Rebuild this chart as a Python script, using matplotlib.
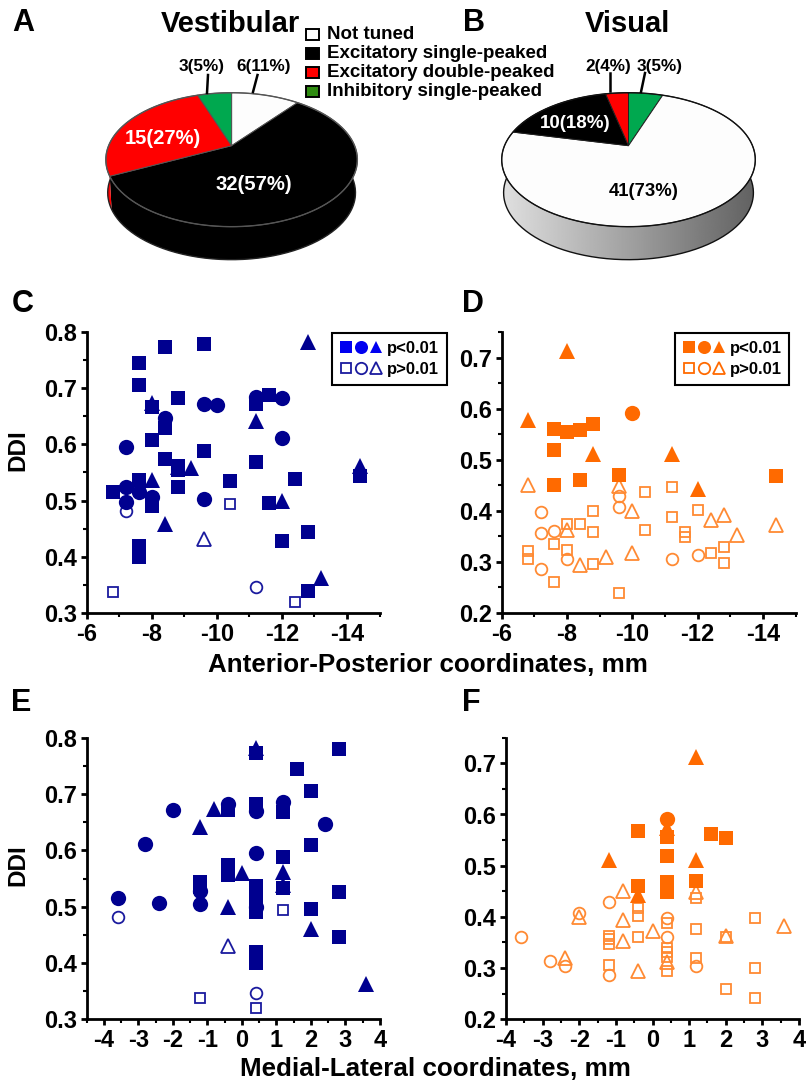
import numpy as np
import matplotlib
matplotlib.use('Agg')
import matplotlib.pyplot as plt
from matplotlib.legend_handler import HandlerTuple
from matplotlib.patches import Polygon, Rectangle
from matplotlib.ticker import MultipleLocator

plt.rcParams['font.family'] = ['Liberation Sans', 'DejaVu Sans']
plt.rcParams['font.weight'] = 'bold'
plt.rcParams['axes.unicode_minus'] = False

# pie counts, clockwise from the top
vest_counts = [6, 32, 15, 3]
vest_colors = ['#fdfdfd', '#000000', '#ff0000', '#00a84f']
vis_counts = [3, 41, 10, 2]
vis_colors = ['#00a84f', '#fdfdfd', '#000000', '#ff0000']
legend_labels = ['Not tuned', 'Excitatory single-peaked', 'Excitatory double-peaked', 'Inhibitory single-peaked']
legend_colors = ['#ffffff', '#000000', '#ff0000', '#2e8b10']

# C: DDI vs anterior-posterior, vestibular
c_sq_x = [-6.8, -7.6, -7.6, -7.6, -7.6, -7.6, -7.6, -8, -8, -8.4, -8.4, -8.4, -8, -8.8, -8.8, -8.8, -8.8, -9.6, -9.6,
          -10.4, -11.2, -11.2, -11.6, -11.6, -12, -12.4, -12.8, -12.8, -14.4]
c_sq_y = [.515, .745, .705, .537, .419, .41, .40, .608, .49, .773, .63, .574, .666, .683, .561, .554, .524, .779, .588,
          .534, .671, .569, .688, .496, .428, .538, .445, .339, .543]
c_ci_x = [-7.2, -7.2, -7.2, -7.6, -8, -8.4, -9.6, -9.6, -10, -11.2, -12, -12]
c_ci_y = [.595, .525, .498, .516, .506, .647, .672, .503, .67, .685, .683, .611]
c_tr_x = [-12.8, -8, -11.2, -14.4, -8.8, -9.2, -8, -8.4, -12, -13.2]
c_tr_y = [.783, .674, .641, .561, .56, .558, .537, .458, .5, .362]
c_osq_x = [-6.8, -10.4, -12.4]
c_osq_y = [.337, .494, .32]
c_oci_x = [-7.2, -11.2]
c_oci_y = [.481, .346]
c_otr_x = [-9.6]
c_otr_y = [.431]

# D: DDI vs anterior-posterior, visual
d_sq_x = [-7.6, -7.6, -7.6, -8, -8.4, -8.8, -8.4, -9.6, -14.4]
d_sq_y = [.56, .519, .45, .555, .559, .57, .46, .47, .469]
d_ci_x = [-10]
d_ci_y = [.592]
d_tr_x = [-8, -6.8, -8.8, -11.2, -12]
d_tr_y = [.712, .577, .511, .511, .442]
d_osq_x = [-6.8, -6.8, -7.6, -7.6, -8, -8, -8.4, -8.8, -8.8, -8.8, -9.6, -10.4, -10.4, -11.2, -11.2, -11.6, -11.6,
           -12, -12.4, -12.8, -12.8]
d_osq_y = [.321, .306, .336, .26, .375, .323, .375, .399, .359, .296, .24, .436, .362, .447, .388, .359, .349,
           .401, .317, .33, .298]
d_oci_x = [-7.2, -7.2, -7.2, -7.6, -8, -9.6, -9.6, -11.2, -12]
d_oci_y = [.398, .357, .287, .361, .305, .429, .407, .305, .313]
d_otr_x = [-6.8, -8, -8.4, -9.2, -9.6, -10, -10, -12.4, -12.8, -13.2, -14.4]
d_otr_y = [.45, .362, .293, .31, .449, .4, .318, .382, .391, .352, .372]

# E: DDI vs medial-lateral, vestibular
e_sq_x = [.4, 1.6, 2.8, 2, -.4, .4, 1.2, 2, 1.2, -.4, -.4, -.4, -1.2, -1.2, .4, .4, .4, 2.8, 2, .4, 2.8, .4, .4, .4, 1.2]
e_sq_y = [.772, .745, .78, .705, .671, .683, .668, .609, .589, .574, .565, .556, .544, .535, .537, .525, .512, .526,
          .496, .49, .447, .42, .41, .40, .534]
e_ci_x = [-3.6, -2.8, -2.4, -2, -1.2, -1.2, -.4, .4, .4, .4, 1.2, 2.4]
e_ci_y = [.516, .612, .506, .672, .528, .504, .683, .67, .596, .5, .686, .647]
e_tr_x = [.4, -.8, -1.2, 0, 1.2, 1.2, -.4, 2, 3.6]
e_tr_y = [.782, .674, .642, .56, .561, .538, .5, .46, .363]
e_osq_x = [-1.2, 1.2, .4]
e_osq_y = [.338, .494, .32]
e_oci_x = [-3.6, .4]
e_oci_y = [.482, .347]
e_otr_x = [-.4]
e_otr_y = [.431]

# F: DDI vs medial-lateral, visual
f_sq_x = [-.4, .4, .4, .4, .4, .4, -.4, 1.6, 2, 1.2]
f_sq_y = [.568, .557, .519, .469, .459, .449, .46, .561, .555, .47]
f_ci_x = [.4]
f_ci_y = [.592]
f_tr_x = [1.2, -1.2, .4, 1.2, -.4]
f_tr_y = [.712, .511, .573, .511, .443]
f_osq_x = [-1.2, -1.2, -1.2, -1.2, -.4, -.4, -.4, .4, .4, .4, .4, .4, 1.2, 1.2, 1.2, 2, 2, 2.8, 2.8, 2.8]
f_osq_y = [.363, .356, .348, .307, .417, .401, .36, .388, .34, .332, .322, .295, .436, .376, .319, .361, .26, .398, .3, .241]
f_oci_x = [-3.6, -2.8, -2.4, -2, -1.2, -1.2, .4, .4, 1.2]
f_oci_y = [.361, .313, .305, .408, .43, .287, .397, .36, .305]
f_otr_x = [-2.4, -2, -.8, -.8, -.8, -.4, 0, .4, 1.2, 2, 3.6]
f_otr_y = [.319, .4, .45, .393, .353, .294, .373, .311, .448, .363, .382]

W, H = 809, 1082
fig = plt.figure(figsize=(W / 100, H / 100), dpi=100)


def axes_px(left, top, right, bottom):
    return fig.add_axes([left / W, 1 - bottom / H, (right - left) / W, (bottom - top) / H])


# overlay in pixel coordinates for the pies and free text
bg = fig.add_axes([0, 0, 1, 1])
bg.set_xlim(0, W)
bg.set_ylim(H, 0)
bg.axis('off')


def rim(theta, cx, cy, s, p=0.209, b=33.6, drop=0, xs=1.0):
    # the pies are tilted discs: perspective puts the apex above the ellipse centre
    u, v = np.sin(theta), np.cos(theta)
    d = 1 + p * v
    return cx + xs * s * u / d, (cy - b * v) / d + drop


def draw_pie(counts, colors, cx, cy, s, edge, rim_color, low_color, gradient=False):
    fr = np.cumsum([0] + counts) / sum(counts) * 2 * np.pi
    for i in range(len(counts)):
        t = np.linspace(fr[i], fr[i + 1], 80)
        x0, y0 = rim(t, cx, cy, s)
        x1, y1 = rim(t[::-1], cx, cy, s, drop=33, xs=0.985)
        side = Polygon(np.c_[np.r_[x0, x1], np.r_[y0, y1]], closed=True, fc=colors[i], ec='none', zorder=1)
        bg.add_patch(side)
        if gradient and colors[i] == '#fdfdfd':
            side.set_facecolor('none')
            im = bg.imshow(np.linspace(0.88, 0.38, 256)[None, :], cmap='gray', vmin=0, vmax=1, aspect='auto',
                           extent=(cx - s * 1.03, cx + s * 1.03, cy + 130, cy - 20), zorder=1)
            im.set_clip_path(side)
    if gradient:
        bg.set_xlim(0, W)
        bg.set_ylim(H, 0)
    # outline of the lower rim
    t = np.linspace(np.pi / 2 - 0.1, 3 * np.pi / 2 + 0.1, 200)
    xl, yl = rim(t, cx, cy, s, drop=33, xs=0.985)
    bg.plot(xl, yl, color=low_color, lw=1.0, zorder=1.5)
    for i in range(len(counts)):
        t = np.linspace(fr[i], fr[i + 1], 80)
        x0, y0 = rim(t, cx, cy, s)
        top = Polygon(np.c_[np.r_[cx, x0], np.r_[cy, y0]], closed=True, fc=colors[i], ec=edge, lw=0.7, zorder=2)
        bg.add_patch(top)
    t = np.linspace(0, 2 * np.pi, 300)
    xr, yr = rim(t, cx, cy, s)
    bg.plot(xr, yr, color=rim_color, lw=1.0, zorder=3)


draw_pie(vest_counts, vest_colors, 231.6, 145.7, 123, '#555555', '#555555', '#222222')
draw_pie(vis_counts, vis_colors, 628.5, 145.7, 124, '#222222', '#111111', '#111111', gradient=True)

# small ticks from the count labels to the pie
bg.plot([208, 207], [75, 93], color='k', lw=1.8, zorder=4)
bg.plot([257.5, 253], [75, 92], color='k', lw=1.8, zorder=4)
bg.plot([610, 610], [73, 91], color='k', lw=1.8, zorder=4)
bg.plot([645, 641], [73, 92], color='k', lw=1.8, zorder=4)

bg.text(230, 24, 'Vestibular', fontsize=21, ha='center', va='center')
bg.text(627, 24, 'Visual', fontsize=21, ha='center', va='center')

for (px, py, s) in [(202, 67, '3(5%)'), (264, 67, '6(11%)'), (608, 67, '2(4%)'), (660, 67, '3(5%)')]:
    bg.text(px, py, s, fontsize=12.3, ha='center', va='center', zorder=5)
bg.text(163, 138, '15(27%)', fontsize=14.5, color='w', ha='center', va='center', zorder=5)
bg.text(254, 185, '32(57%)', fontsize=14.6, color='w', ha='center', va='center', zorder=5)
bg.text(575, 123, '10(18%)', fontsize=13.5, color='w', ha='center', va='center', zorder=5)
bg.text(644, 192, '41(73%)', fontsize=13.3, color='k', ha='center', va='center', zorder=5)

for i, lab in enumerate(legend_labels):
    ly = 34.5 + 19 * i
    bg.add_patch(Rectangle((306, ly - 5.5), 13, 11, fc=legend_colors[i], ec='k', lw=1.4, zorder=5))
    bg.text(327, ly, lab, fontsize=13.5, ha='left', va='center', zorder=5)

for (px, py, s) in [(23, 23, 'A'), (474, 23, 'B'), (23, 304, 'C'), (473, 304, 'D'), (21, 703, 'E'), (471, 703, 'F')]:
    bg.text(px, py, s, fontsize=22, ha='center', va='center', zorder=5)

bg.text(18, 450, 'DDI', fontsize=17.5, rotation=90, ha='center', va='center')
bg.text(18, 865, 'DDI', fontsize=17.5, rotation=90, ha='center', va='center')
bg.text(428, 665, 'Anterior-Posterior coordinates, mm', fontsize=18.7, ha='center', va='center')
bg.text(435, 1069, 'Medial-Lateral coordinates, mm', fontsize=18.7, ha='center', va='center')


def scatter_panel(ax, sq, ci, tr, osq, oci, otr, fill, line, xlim, ylim, xmaj, xmin):
    ax.plot(*osq, 's', ms=7.8, mfc='none', mec=line, mew=1.3, clip_on=False)
    ax.plot(*oci, 'o', ms=8.4, mfc='none', mec=line, mew=1.3, clip_on=False)
    ax.plot(*otr, '^', ms=9.6, mfc='none', mec=line, mew=1.3, clip_on=False)
    ax.plot(*sq, 's', ms=10, color=fill, mew=0, clip_on=False)
    ax.plot(*ci, 'o', ms=11, color=fill, mew=0, clip_on=False)
    ax.plot(*tr, '^', ms=11.5, color=fill, mew=0, clip_on=False)
    ax.set_xlim(*xlim)
    ax.set_ylim(*ylim)
    ax.spines['top'].set_visible(False)
    ax.spines['right'].set_visible(False)
    ax.spines['left'].set_linewidth(2)
    ax.spines['bottom'].set_linewidth(2)
    ax.xaxis.set_major_locator(MultipleLocator(xmaj))
    ax.xaxis.set_minor_locator(MultipleLocator(xmin))
    ax.yaxis.set_major_locator(MultipleLocator(0.1))
    ax.yaxis.set_minor_locator(MultipleLocator(0.05))
    ax.tick_params(which='major', length=4, width=2, labelsize=17, pad=3)
    ax.tick_params(which='minor', length=3, width=1.5)
    ax.patch.set_alpha(0)


def p_legend(ax, fill, line, open_line, anchor):
    f = dict(ls='none', color=fill, mew=0)
    o = dict(ls='none', mfc='none', mec=open_line, mew=1.3)
    h1 = (ax.plot([], [], 's', ms=8.6, **f)[0], ax.plot([], [], 'o', ms=9.4, **f)[0], ax.plot([], [], '^', ms=8.6, **f)[0])
    h2 = (ax.plot([], [], 's', ms=7.8, **o)[0], ax.plot([], [], 'o', ms=8.2, **o)[0], ax.plot([], [], '^', ms=8.6, **o)[0])
    leg = ax.legend([h1, h2], ['p<0.01', 'p>0.01'], handler_map={tuple: HandlerTuple(ndivide=None, pad=0.1)},
                    loc='upper right', bbox_to_anchor=anchor, bbox_transform=fig.transFigure,
                    fontsize=12, fancybox=False, framealpha=1, edgecolor='k', handlelength=2.6,
                    handletextpad=0.25, labelspacing=0.4, borderpad=0.45, borderaxespad=0)
    leg.get_frame().set_linewidth(1.5)


navy = '#00008f'
navy_open = '#1a1a9e'
orange = '#ff6a00'
orange_open = '#ff8a33'

ax_c = axes_px(86.5, 332, 379.5, 613)
scatter_panel(ax_c, (c_sq_x, c_sq_y), (c_ci_x, c_ci_y), (c_tr_x, c_tr_y), (c_osq_x, c_osq_y), (c_oci_x, c_oci_y),
              (c_otr_x, c_otr_y), navy, navy_open, (-6, -15), (0.3, 0.8), 2, 1)
p_legend(ax_c, '#0000f0', navy, navy_open, (446.5 / W, 1 - 333 / H))

ax_d = axes_px(501.7, 332, 795.7, 613)
scatter_panel(ax_d, (d_sq_x, d_sq_y), (d_ci_x, d_ci_y), (d_tr_x, d_tr_y), (d_osq_x, d_osq_y), (d_oci_x, d_oci_y),
              (d_otr_x, d_otr_y), orange, orange_open, (-6, -15), (0.2, 0.75), 2, 1)
p_legend(ax_d, orange, orange, orange, (789 / W, 1 - 333 / H))

ax_e = axes_px(86.5, 737.7, 380, 1019.3)
scatter_panel(ax_e, (e_sq_x, e_sq_y), (e_ci_x, e_ci_y), (e_tr_x, e_tr_y), (e_osq_x, e_osq_y), (e_oci_x, e_oci_y),
              (e_otr_x, e_otr_y), navy, navy_open, (-4.5, 4), (0.3, 0.8), 1, 0.5)

ax_f = axes_px(506, 737.7, 799, 1019.3)
scatter_panel(ax_f, (f_sq_x, f_sq_y), (f_ci_x, f_ci_y), (f_tr_x, f_tr_y), (f_osq_x, f_osq_y), (f_oci_x, f_oci_y),
              (f_otr_x, f_otr_y), orange, orange_open, (-4, 4), (0.2, 0.75), 1, 0.5)

fig.savefig('out.png', dpi=100)
